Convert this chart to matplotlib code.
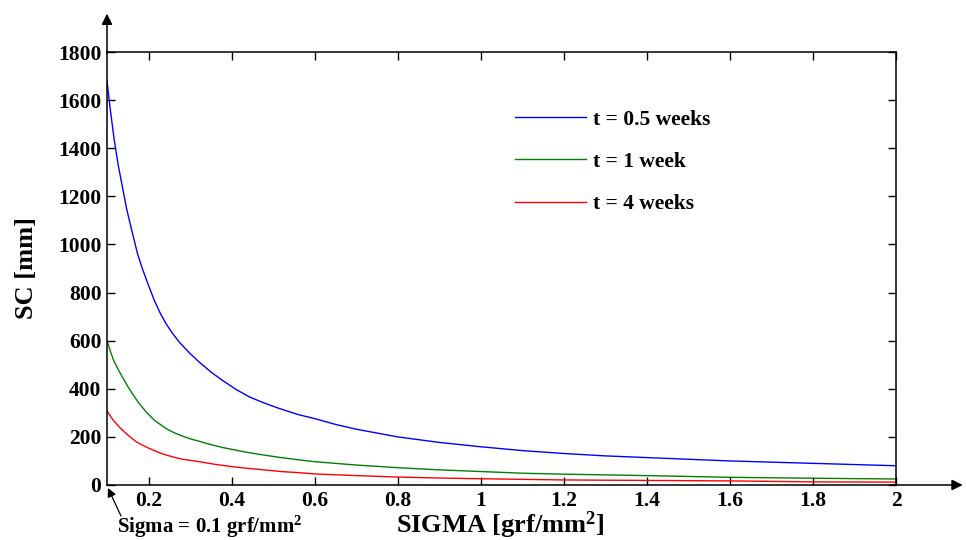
import numpy as np
import matplotlib
matplotlib.use("Agg")
import matplotlib.pyplot as plt

plt.rcParams["font.family"] = ["Liberation Serif", "DejaVu Serif"]
plt.rcParams["font.weight"] = "bold"
plt.rcParams["mathtext.fontset"] = "custom"
plt.rcParams["mathtext.rm"] = "Liberation Serif:bold"
plt.rcParams["mathtext.bf"] = "Liberation Serif:bold"
plt.rcParams["mathtext.default"] = "rm"

# values (SIGMA in grf/mm^2, SC in mm)
sigma_05 = [0.1, 0.108, 0.117, 0.127, 0.137, 0.147, 0.158, 0.173, 0.185, 0.2,
            0.214, 0.228, 0.242, 0.258, 0.274, 0.298, 0.322, 0.35, 0.378, 0.41,
            0.443, 0.48, 0.515, 0.56, 0.6, 0.65, 0.7, 0.8, 0.9, 1.0, 1.1, 1.2,
            1.3, 1.4, 1.5, 1.6, 1.7, 1.8, 1.9, 2.0]
sc_05 = [1680, 1560, 1440, 1330, 1240, 1150, 1070, 965, 900, 830,
         767, 715, 671, 630, 594, 550, 511, 470, 435, 398,
         366, 340, 318, 293, 276, 252, 232, 200, 177, 159, 143, 131,
         121, 114, 107, 100, 95, 90, 85, 80]

sigma_1 = [0.1, 0.108, 0.115, 0.126, 0.137, 0.15, 0.161, 0.177, 0.194, 0.215,
           0.242, 0.262, 0.282, 0.3, 0.322, 0.35, 0.378, 0.41, 0.443, 0.48,
           0.515, 0.56, 0.6, 0.7, 0.8, 0.9, 1.0, 1.1, 1.2, 1.3, 1.4, 1.6,
           1.8, 2.0]
sc_1 = [600, 557, 522, 483, 449, 410, 380, 340, 304, 268,
        235, 217, 203, 192, 182, 168, 156, 145, 134, 124,
        115, 105, 97, 83, 72, 63, 56, 49, 45, 42, 39, 32,
        28, 25]

sigma_4 = [0.1, 0.114, 0.129, 0.15, 0.17, 0.186, 0.202, 0.218, 0.234, 0.258,
           0.282, 0.322, 0.36, 0.402, 0.44, 0.483, 0.52, 0.563,
           0.6, 0.7, 0.8, 0.9, 1.0, 1.2, 1.4, 1.6, 1.8, 2.0]
sc_4 = [307, 272, 242, 208, 180, 165, 152, 140, 129, 117,
        107, 97, 86, 76, 69, 62, 56, 51,
        46, 39, 33, 29, 26, 21, 19, 17, 13, 12]

labels = ["t = 0.5 weeks", "t = 1 week", "t = 4 weeks"]
colors = ["#0000ff", "#008000", "#ff0000"]

xticks = [0.2, 0.4, 0.6, 0.8, 1.0, 1.2, 1.4, 1.6, 1.8, 2.0]
xticklabels = ["0.2", "0.4", "0.6", "0.8", "1", "1.2", "1.4", "1.6", "1.8", "2"]
yticks = np.arange(0, 1801, 200)

fig = plt.figure(figsize=(9.66, 5.4), dpi=100)
ax = fig.add_axes([107 / 966, 1 - 485 / 540, 789 / 966, 433 / 540])

for xs, ys, lab, c in zip([sigma_05, sigma_1, sigma_4], [sc_05, sc_1, sc_4], labels, colors):
    ax.plot(xs, ys, color=c, lw=1.0, label=lab)

ax.set_xlim(0.1, 2)
ax.set_ylim(0, 1800)
ax.set_xticks(xticks)
ax.set_xticklabels(xticklabels)
ax.set_yticks(yticks)
ax.tick_params(direction="in", length=6, width=1, top=True, right=True,
               labelsize=15.5, pad=4)
for sp in ax.spines.values():
    sp.set_linewidth(1.1)

leg = ax.legend(loc="upper left", bbox_to_anchor=(0.517, 0.867), frameon=False,
                fontsize=15.5, handlelength=3.3, handletextpad=0.35,
                labelspacing=1.03, borderpad=0, borderaxespad=0)

# axis arrows
ax.annotate("", xy=(0, 1.095), xytext=(0, 0.99), xycoords="axes fraction",
            arrowprops=dict(arrowstyle="-|>", color="k", lw=1.1, mutation_scale=16))
ax.annotate("", xy=(1.088, 0), xytext=(0.99, 0), xycoords="axes fraction",
            arrowprops=dict(arrowstyle="-|>", color="k", lw=1.1, mutation_scale=16))

# note on the starting value
fig.text(117 / 966, 7 / 540, "Sigma = 0.1 grf/mm$^2$", fontsize=15, va="baseline")
ax.annotate("", xy=(108, 540 - 488), xytext=(121, 540 - 516),
            xycoords="figure pixels", textcoords="figure pixels",
            arrowprops=dict(arrowstyle="-|>", color="k", lw=0.9, mutation_scale=13,
                            shrinkA=0, shrinkB=0))

fig.text(500 / 966, 7 / 540, "SIGMA [grf/mm$^2$]", fontsize=19, ha="center", va="baseline")
fig.text(27 / 966, 1 - 268 / 540, "SC [mm]", fontsize=19, rotation=90,
         ha="center", va="center")

fig.savefig("out.png", dpi=100)
